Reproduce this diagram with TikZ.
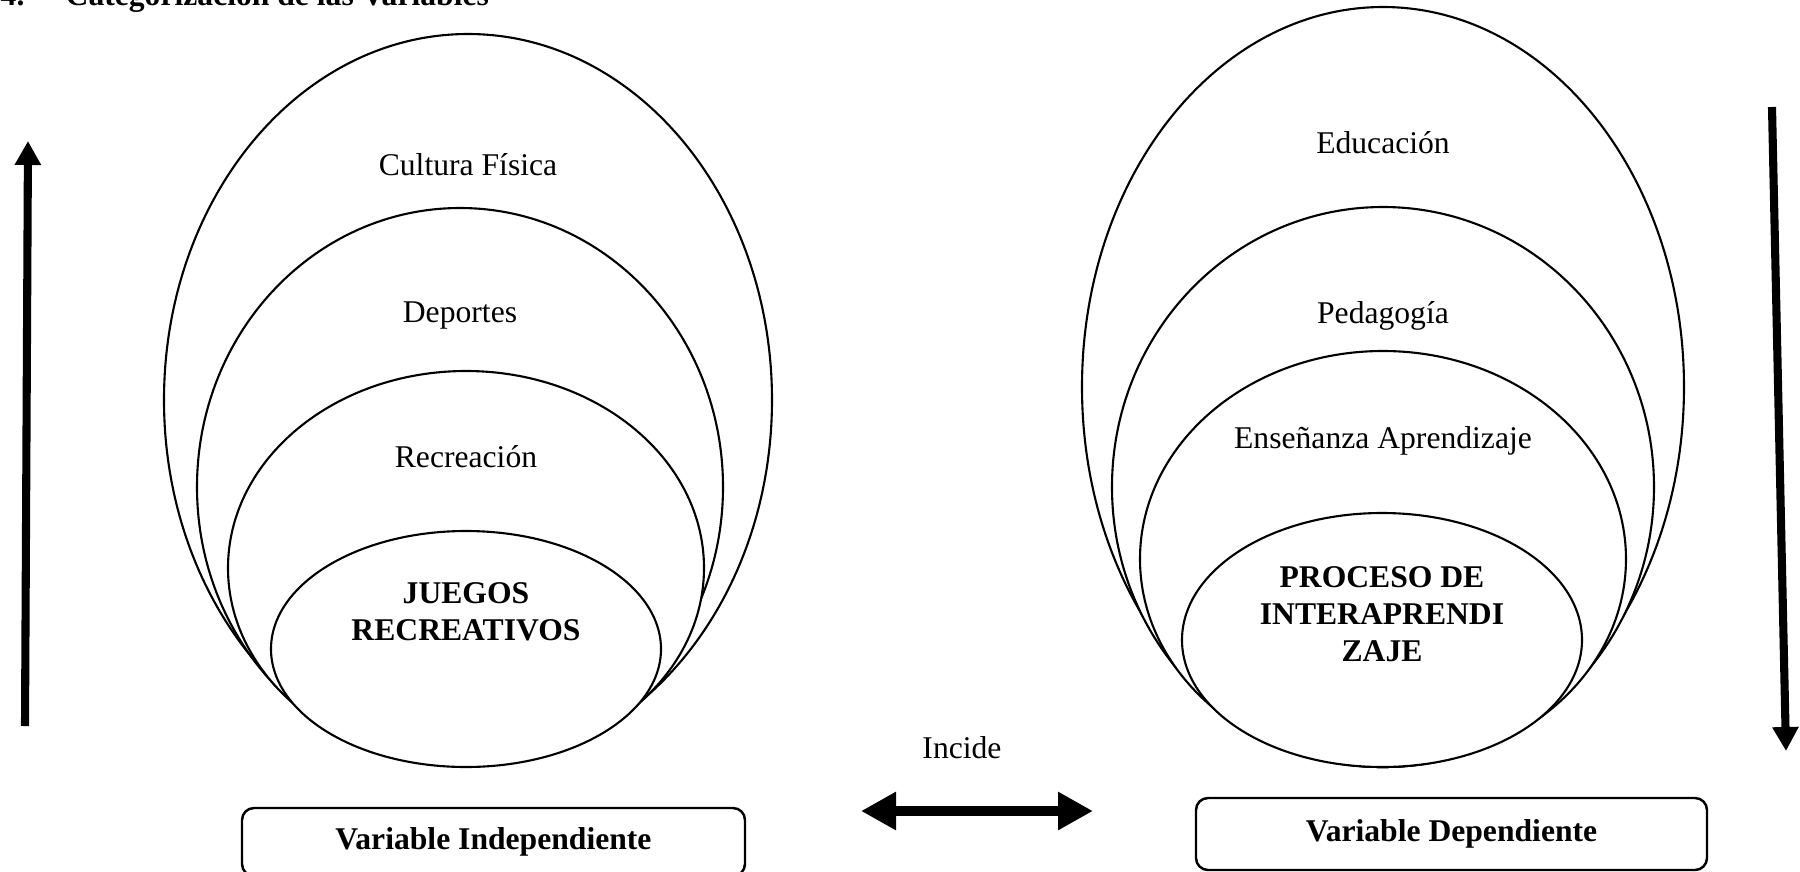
\documentclass[tikz,border=0pt]{standalone}
\usepackage{fontspec}
\setmainfont{Liberation Serif}
\usetikzlibrary{calc,positioning,arrows.meta,shapes.geometric}

\begin{document}
\begin{tikzpicture}[font=\fontsize{9}{10.5}\selectfont,
  ring/.style={ellipse,draw,fill=white,line width=0.6pt,inner sep=0pt},
  lbl/.style={inner sep=1pt,align=center},
  varbox/.style={draw,rounded corners=0.12cm,line width=0.7pt,font=\fontsize{9}{10.5}\selectfont\bfseries},
  bigarrow/.style={line width=2.3pt,-{Triangle[length=0.24cm,width=0.25cm]}}]
\useasboundingbox (0,0) rectangle (18,-8.71);
\clip (0,0) rectangle (18,-8.71);
% cut-off heading
\node[anchor=base west,inner sep=0pt,font=\fontsize{9}{10.5}\selectfont\bfseries] (num) at (0,-0.05) {4.};
\node[anchor=base west,inner sep=0pt,font=\fontsize{9}{10.5}\selectfont\bfseries] (ttl) at (0.65,-0.05) {Categorización de las Variables};
% independent variable rings
\node[ring,minimum width=6.08cm,minimum height=7.32cm] (cul) at (4.68,-4.00) {};
\node[ring,minimum width=5.26cm,minimum height=5.58cm] (dep) at (4.60,-4.87) {};
\node[ring,minimum width=4.76cm,minimum height=3.94cm] (rec) at (4.66,-5.68) {};
\node[ring,minimum width=3.90cm,minimum height=2.36cm] (jue) at (4.66,-6.49) {};
\node[lbl] (culT) at ($(cul.north)+(0,-1.32)$) {Cultura Física};
\node[lbl] (depT) at ($(dep.north)+(0,-1.09)$) {Deportes};
\node[lbl] (recT) at ($(rec.north)+(0,-0.87)$) {Recreación};
\node[lbl,font=\fontsize{9}{10.5}\selectfont\bfseries] (jueT) at ($(jue.center)+(0,0.37)$) {JUEGOS\\RECREATIVOS};
% dependent variable rings
\node[ring,minimum width=6.02cm,minimum height=7.60cm] (edu) at (13.83,-3.87) {};
\node[ring,minimum width=5.42cm,minimum height=5.60cm] (ped) at (13.83,-4.87) {};
\node[ring,minimum width=4.86cm,minimum height=4.16cm] (ens) at (13.83,-5.59) {};
\node[ring,minimum width=4.00cm,minimum height=2.54cm] (pro) at (13.82,-6.40) {};
\node[lbl] (eduT) at ($(edu.north)+(0,-1.37)$) {Educación};
\node[lbl] (pedT) at ($(ped.north)+(0,-1.10)$) {Pedagogía};
\node[lbl] (ensT) at ($(ens.north)+(0,-0.91)$) {Enseñanza Aprendizaje};
\node[lbl,font=\fontsize{9}{10.5}\selectfont\bfseries] (proT) at ($(pro.center)+(0,0.26)$) {PROCESO DE\\INTERAPRENDI\\ZAJE};
% variable boxes
\node[varbox,minimum width=5.03cm,minimum height=0.68cm] (vind) at (4.935,-8.42) {Variable Independiente};
\node[varbox,minimum width=5.11cm,minimum height=0.72cm] (vdep) at (14.515,-8.34) {Variable Dependiente};
% arrows
\coordinate (upA) at (0.25,-7.26);
\coordinate (upB) at (0.28,-1.41);
\coordinate (dnA) at (17.72,-1.07);
\coordinate (dnB) at (17.86,-7.51);
\coordinate (incL) at (8.61,-8.11);
\coordinate (incR) at (10.93,-8.11);
\draw[bigarrow] (upA) -- (upB);
\draw[bigarrow] (dnA) -- (dnB);
\draw[line width=2.8pt,{Triangle[length=0.35cm,width=0.36cm]}-{Triangle[length=0.35cm,width=0.36cm]}] (incL) -- (incR);
\node[lbl] (inc) at (9.62,-7.48) {Incide};
\end{tikzpicture}
\end{document}
